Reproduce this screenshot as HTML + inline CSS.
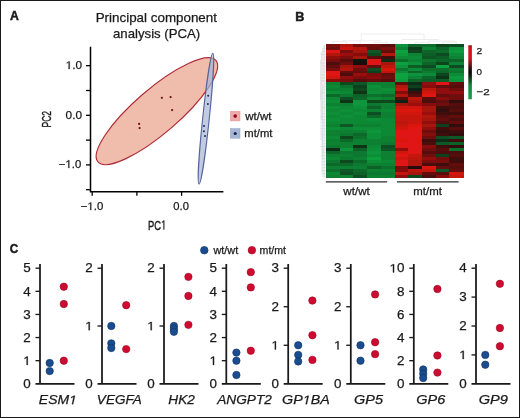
<!DOCTYPE html>
<html><head><meta charset="utf-8"><title>Figure</title>
<style>
html,body{margin:0;padding:0;background:#fff;}
body{width:520px;height:418px;overflow:hidden;font-family:"Liberation Sans", sans-serif;}
.frame{position:absolute;left:0;top:0;width:518px;height:416px;border:1px solid #1a1a1a;}
svg{position:absolute;left:0;top:0;display:block;will-change:transform;}
</style></head><body>
<svg width="520" height="418" viewBox="0 0 520 418" font-family='"Liberation Sans", sans-serif' fill="#1a1a1a"><style>text{stroke:#1a1a1a;stroke-width:0.25px;}</style><text x="10.00" y="20.30" font-size="12.5" font-weight="bold" textLength="8.83" lengthAdjust="spacingAndGlyphs" style="stroke-width:0.45px">A</text>
<text x="95.70" y="21.60" font-size="13.2" textLength="121.30" lengthAdjust="spacingAndGlyphs">Principal component</text>
<text x="113.04" y="37.60" font-size="13.2" textLength="87.18" lengthAdjust="spacingAndGlyphs">analysis (PCA)</text>
<ellipse cx="156.91" cy="111.17" rx="77.77" ry="22.09" transform="rotate(-40.72 156.91 111.17)" fill="#f0bdad" stroke="#b02c3a" stroke-width="1.2"/>
<circle cx="139.1" cy="123.9" r="1.15" fill="#701418"/>
<circle cx="139.6" cy="128.1" r="1.15" fill="#701418"/>
<circle cx="161.9" cy="97.8" r="1.15" fill="#701418"/>
<circle cx="170.6" cy="97.1" r="1.15" fill="#701418"/>
<circle cx="172.1" cy="110.1" r="1.15" fill="#701418"/>
<ellipse cx="205.95" cy="118.65" rx="65.8" ry="3.3" transform="rotate(-83.98 205.95 118.65)" fill="#a9b5d5" fill-opacity="0.7" stroke="#52649a" stroke-width="1.1"/>
<circle cx="208.2" cy="95.8" r="1.0" fill="#1c2c5c"/>
<circle cx="207.9" cy="104" r="1.0" fill="#1c2c5c"/>
<circle cx="204" cy="126" r="1.0" fill="#1c2c5c"/>
<circle cx="203.9" cy="131.3" r="1.0" fill="#1c2c5c"/>
<circle cx="205" cy="136" r="1.0" fill="#1c2c5c"/>
<path d="M90.5 46.7 V191.8 H223.4" fill="none" stroke="#000" stroke-width="1.5"/>
<line x1="86.0" y1="65.70" x2="90.5" y2="65.70" stroke="#000" stroke-width="1.3"/>
<line x1="86.0" y1="90.50" x2="90.5" y2="90.50" stroke="#000" stroke-width="1.3"/>
<line x1="86.0" y1="115.30" x2="90.5" y2="115.30" stroke="#000" stroke-width="1.3"/>
<line x1="86.0" y1="140.10" x2="90.5" y2="140.10" stroke="#000" stroke-width="1.3"/>
<line x1="86.0" y1="164.90" x2="90.5" y2="164.90" stroke="#000" stroke-width="1.3"/>
<line x1="86.0" y1="189.70" x2="90.5" y2="189.70" stroke="#000" stroke-width="1.3"/>
<line x1="92.20" y1="191.8" x2="92.20" y2="195.8" stroke="#000" stroke-width="1.3"/>
<line x1="136.90" y1="191.8" x2="136.90" y2="195.8" stroke="#000" stroke-width="1.3"/>
<line x1="181.60" y1="191.8" x2="181.60" y2="195.8" stroke="#000" stroke-width="1.3"/>
<path d="M515 0L515 1237L197 1010L197 1180L530 1409L696 1409L696 0Z" transform="translate(65.67 69.10) scale(0.00576 -0.00547)" fill="#1a1a1a" stroke="#1a1a1a" stroke-width="0.25" vector-effect="non-scaling-stroke"/>
<text x="65.67" y="69.10" font-size="11.2" textLength="16.40" lengthAdjust="spacingAndGlyphs"> .0</text>
<text x="65.64" y="118.80" font-size="11.2" textLength="16.42" lengthAdjust="spacingAndGlyphs">0.0</text>
<path d="M515 0L515 1237L197 1010L197 1180L530 1409L696 1409L696 0Z" transform="translate(65.47 168.00) scale(0.00554 -0.00547)" fill="#1a1a1a" stroke="#1a1a1a" stroke-width="0.25" vector-effect="non-scaling-stroke"/>
<text x="58.84" y="168.00" font-size="11.2" textLength="22.40" lengthAdjust="spacingAndGlyphs">− .0</text>
<path d="M515 0L515 1237L197 1010L197 1180L530 1409L696 1409L696 0Z" transform="translate(87.40 210.10) scale(0.00557 -0.00547)" fill="#1a1a1a" stroke="#1a1a1a" stroke-width="0.25" vector-effect="non-scaling-stroke"/>
<text x="80.74" y="210.10" font-size="11.2" textLength="22.51" lengthAdjust="spacingAndGlyphs">− .0</text>
<text x="173.36" y="210.20" font-size="11.2" textLength="15.58" lengthAdjust="spacingAndGlyphs">0.0</text>
<path d="M515 0L515 1237L197 1010L197 1180L530 1409L696 1409L696 0Z" transform="translate(161.10 229.50) scale(0.00460 -0.00645)" fill="#1a1a1a" stroke="#1a1a1a" stroke-width="0.25" vector-effect="non-scaling-stroke"/>
<text x="148.03" y="229.50" font-size="13.2" textLength="18.31" lengthAdjust="spacingAndGlyphs" style="stroke-width:0.4px">PC </text>
<g transform="translate(50.7 127.0) rotate(-90)">
<text x="-0.39" y="0.00" font-size="13.6" textLength="16.42" lengthAdjust="spacingAndGlyphs" style="stroke-width:0.4px">PC2</text>
</g>
<rect x="230.4" y="111.3" width="9.6" height="9.6" fill="#f0aaa8" stroke="#e09090" stroke-width="0.5"/>
<circle cx="235.2" cy="116.1" r="1.8" fill="#8a0c1c"/>
<rect x="230.4" y="128.6" width="9.6" height="9.6" fill="#a8b6d6" stroke="#90a0c8" stroke-width="0.5"/>
<circle cx="235.2" cy="133.5" r="1.6" fill="#14224c"/>
<text x="245.22" y="119.70" font-size="10.3" textLength="26.27" lengthAdjust="spacingAndGlyphs">wt/wt</text>
<text x="244.35" y="136.60" font-size="10.3" textLength="28.13" lengthAdjust="spacingAndGlyphs">mt/mt</text>
<text x="295.36" y="20.70" font-size="12.5" font-weight="bold" textLength="9.12" lengthAdjust="spacingAndGlyphs" style="stroke-width:0.45px">B</text>
<defs><filter id="hb" x="-2%" y="-2%" width="104%" height="104%"><feGaussianBlur stdDeviation="0.4"/></filter></defs>
<g filter="url(#hb)"><g shape-rendering="crispEdges"><rect x="325.80" y="44.00" width="14.04" height="3.25" fill="#7b0f0d"/><rect x="339.54" y="44.00" width="14.04" height="3.25" fill="#b2120f"/><rect x="353.28" y="44.00" width="14.04" height="3.25" fill="#7b0f0d"/><rect x="367.02" y="44.00" width="14.04" height="3.25" fill="#700e0c"/><rect x="380.76" y="44.00" width="14.04" height="3.25" fill="#590c0b"/><rect x="394.50" y="44.00" width="14.04" height="3.25" fill="#08933a"/><rect x="408.24" y="44.00" width="14.04" height="3.25" fill="#0b652a"/><rect x="421.98" y="44.00" width="14.04" height="3.25" fill="#0a6d2c"/><rect x="435.72" y="44.00" width="14.04" height="3.25" fill="#0d441e"/><rect x="449.46" y="44.00" width="14.04" height="3.25" fill="#0c4c21"/><rect x="325.80" y="46.95" width="14.04" height="3.25" fill="#700e0c"/><rect x="339.54" y="46.95" width="14.04" height="3.25" fill="#c61410"/><rect x="353.28" y="46.95" width="14.04" height="3.25" fill="#b2120f"/><rect x="367.02" y="46.95" width="14.04" height="3.25" fill="#640d0c"/><rect x="380.76" y="46.95" width="14.04" height="3.25" fill="#7b0f0d"/><rect x="394.50" y="46.95" width="14.04" height="3.25" fill="#098435"/><rect x="408.24" y="46.95" width="14.04" height="3.25" fill="#0d3b1b"/><rect x="421.98" y="46.95" width="14.04" height="3.25" fill="#098435"/><rect x="435.72" y="46.95" width="14.04" height="3.25" fill="#0b652a"/><rect x="449.46" y="46.95" width="14.04" height="3.25" fill="#08933a"/><rect x="325.80" y="49.89" width="14.04" height="3.25" fill="#e01612"/><rect x="339.54" y="49.89" width="14.04" height="3.25" fill="#7b0f0d"/><rect x="353.28" y="49.89" width="14.04" height="3.25" fill="#a7120f"/><rect x="367.02" y="49.89" width="14.04" height="3.25" fill="#0b5925"/><rect x="380.76" y="49.89" width="14.04" height="3.25" fill="#640d0c"/><rect x="394.50" y="49.89" width="14.04" height="3.25" fill="#08a240"/><rect x="408.24" y="49.89" width="14.04" height="3.25" fill="#0d441e"/><rect x="421.98" y="49.89" width="14.04" height="3.25" fill="#0b652a"/><rect x="435.72" y="49.89" width="14.04" height="3.25" fill="#0a6d2c"/><rect x="449.46" y="49.89" width="14.04" height="3.25" fill="#089a3d"/><rect x="325.80" y="52.84" width="14.04" height="3.25" fill="#b2120f"/><rect x="339.54" y="52.84" width="14.04" height="3.25" fill="#9c110e"/><rect x="353.28" y="52.84" width="14.04" height="3.25" fill="#870f0d"/><rect x="367.02" y="52.84" width="14.04" height="3.25" fill="#0c481f"/><rect x="380.76" y="52.84" width="14.04" height="3.25" fill="#b2120f"/><rect x="394.50" y="52.84" width="14.04" height="3.25" fill="#089a3d"/><rect x="408.24" y="52.84" width="14.04" height="3.25" fill="#098435"/><rect x="421.98" y="52.84" width="14.04" height="3.25" fill="#0b5d27"/><rect x="435.72" y="52.84" width="14.04" height="3.25" fill="#0c4c21"/><rect x="449.46" y="52.84" width="14.04" height="3.25" fill="#098b38"/><rect x="325.80" y="55.78" width="14.04" height="3.25" fill="#92100e"/><rect x="339.54" y="55.78" width="14.04" height="3.25" fill="#7b0f0d"/><rect x="353.28" y="55.78" width="14.04" height="3.25" fill="#a7120f"/><rect x="367.02" y="55.78" width="14.04" height="3.25" fill="#590c0b"/><rect x="380.76" y="55.78" width="14.04" height="3.25" fill="#400b0a"/><rect x="394.50" y="55.78" width="14.04" height="3.25" fill="#098b38"/><rect x="408.24" y="55.78" width="14.04" height="3.25" fill="#098b38"/><rect x="421.98" y="55.78" width="14.04" height="3.25" fill="#0c5424"/><rect x="435.72" y="55.78" width="14.04" height="3.25" fill="#0b5d27"/><rect x="449.46" y="55.78" width="14.04" height="3.25" fill="#098435"/><rect x="325.80" y="58.73" width="14.04" height="3.25" fill="#7b0f0d"/><rect x="339.54" y="58.73" width="14.04" height="3.25" fill="#590c0b"/><rect x="353.28" y="58.73" width="14.04" height="3.25" fill="#0f190e"/><rect x="367.02" y="58.73" width="14.04" height="3.25" fill="#e01612"/><rect x="380.76" y="58.73" width="14.04" height="3.25" fill="#0e2d16"/><rect x="394.50" y="58.73" width="14.04" height="3.25" fill="#0a6d2c"/><rect x="408.24" y="58.73" width="14.04" height="3.25" fill="#098435"/><rect x="421.98" y="58.73" width="14.04" height="3.25" fill="#0a742f"/><rect x="435.72" y="58.73" width="14.04" height="3.25" fill="#0b652a"/><rect x="449.46" y="58.73" width="14.04" height="3.25" fill="#0b652a"/><rect x="325.80" y="61.68" width="14.04" height="3.25" fill="#4c0b0a"/><rect x="339.54" y="61.68" width="14.04" height="3.25" fill="#700e0c"/><rect x="353.28" y="61.68" width="14.04" height="3.25" fill="#120808"/><rect x="367.02" y="61.68" width="14.04" height="3.25" fill="#e01612"/><rect x="380.76" y="61.68" width="14.04" height="3.25" fill="#a7120f"/><rect x="394.50" y="61.68" width="14.04" height="3.25" fill="#08a240"/><rect x="408.24" y="61.68" width="14.04" height="3.25" fill="#08933a"/><rect x="421.98" y="61.68" width="14.04" height="3.25" fill="#0b652a"/><rect x="435.72" y="61.68" width="14.04" height="3.25" fill="#0d441e"/><rect x="449.46" y="61.68" width="14.04" height="3.25" fill="#098435"/><rect x="325.80" y="64.62" width="14.04" height="3.25" fill="#640d0c"/><rect x="339.54" y="64.62" width="14.04" height="3.25" fill="#a7120f"/><rect x="353.28" y="64.62" width="14.04" height="3.25" fill="#92100e"/><rect x="367.02" y="64.62" width="14.04" height="3.25" fill="#640d0c"/><rect x="380.76" y="64.62" width="14.04" height="3.25" fill="#bc1310"/><rect x="394.50" y="64.62" width="14.04" height="3.25" fill="#08933a"/><rect x="408.24" y="64.62" width="14.04" height="3.25" fill="#0b5d27"/><rect x="421.98" y="64.62" width="14.04" height="3.25" fill="#0c4c21"/><rect x="435.72" y="64.62" width="14.04" height="3.25" fill="#08a240"/><rect x="449.46" y="64.62" width="14.04" height="3.25" fill="#0c4c21"/><rect x="325.80" y="67.57" width="14.04" height="3.25" fill="#7b0f0d"/><rect x="339.54" y="67.57" width="14.04" height="3.25" fill="#b2120f"/><rect x="353.28" y="67.57" width="14.04" height="3.25" fill="#700e0c"/><rect x="367.02" y="67.57" width="14.04" height="3.25" fill="#0c5022"/><rect x="380.76" y="67.57" width="14.04" height="3.25" fill="#da1511"/><rect x="394.50" y="67.57" width="14.04" height="3.25" fill="#0a742f"/><rect x="408.24" y="67.57" width="14.04" height="3.25" fill="#098b38"/><rect x="421.98" y="67.57" width="14.04" height="3.25" fill="#0a6d2c"/><rect x="435.72" y="67.57" width="14.04" height="3.25" fill="#0a6d2c"/><rect x="449.46" y="67.57" width="14.04" height="3.25" fill="#097c32"/><rect x="325.80" y="70.52" width="14.04" height="3.25" fill="#e01612"/><rect x="339.54" y="70.52" width="14.04" height="3.25" fill="#640d0c"/><rect x="353.28" y="70.52" width="14.04" height="3.25" fill="#640d0c"/><rect x="367.02" y="70.52" width="14.04" height="3.25" fill="#0d3f1c"/><rect x="380.76" y="70.52" width="14.04" height="3.25" fill="#bc1310"/><rect x="394.50" y="70.52" width="14.04" height="3.25" fill="#098b38"/><rect x="408.24" y="70.52" width="14.04" height="3.25" fill="#0b652a"/><rect x="421.98" y="70.52" width="14.04" height="3.25" fill="#097c32"/><rect x="435.72" y="70.52" width="14.04" height="3.25" fill="#0b652a"/><rect x="449.46" y="70.52" width="14.04" height="3.25" fill="#0a742f"/><rect x="325.80" y="73.46" width="14.04" height="3.25" fill="#e01612"/><rect x="339.54" y="73.46" width="14.04" height="3.25" fill="#4c0b0a"/><rect x="353.28" y="73.46" width="14.04" height="3.25" fill="#9c110e"/><rect x="367.02" y="73.46" width="14.04" height="3.25" fill="#7b0f0d"/><rect x="380.76" y="73.46" width="14.04" height="3.25" fill="#640d0c"/><rect x="394.50" y="73.46" width="14.04" height="3.25" fill="#08a240"/><rect x="408.24" y="73.46" width="14.04" height="3.25" fill="#08933a"/><rect x="421.98" y="73.46" width="14.04" height="3.25" fill="#098b38"/><rect x="435.72" y="73.46" width="14.04" height="3.25" fill="#0d441e"/><rect x="449.46" y="73.46" width="14.04" height="3.25" fill="#098b38"/><rect x="325.80" y="76.41" width="14.04" height="3.25" fill="#d01411"/><rect x="339.54" y="76.41" width="14.04" height="3.25" fill="#92100e"/><rect x="353.28" y="76.41" width="14.04" height="3.25" fill="#7b0f0d"/><rect x="367.02" y="76.41" width="14.04" height="3.25" fill="#870f0d"/><rect x="380.76" y="76.41" width="14.04" height="3.25" fill="#700e0c"/><rect x="394.50" y="76.41" width="14.04" height="3.25" fill="#08a240"/><rect x="408.24" y="76.41" width="14.04" height="3.25" fill="#098435"/><rect x="421.98" y="76.41" width="14.04" height="3.25" fill="#0b652a"/><rect x="435.72" y="76.41" width="14.04" height="3.25" fill="#0d3217"/><rect x="449.46" y="76.41" width="14.04" height="3.25" fill="#089a3d"/><rect x="325.80" y="79.35" width="14.04" height="3.25" fill="#870f0d"/><rect x="339.54" y="79.35" width="14.04" height="3.25" fill="#7b0f0d"/><rect x="353.28" y="79.35" width="14.04" height="3.25" fill="#590c0b"/><rect x="367.02" y="79.35" width="14.04" height="3.25" fill="#640d0c"/><rect x="380.76" y="79.35" width="14.04" height="3.25" fill="#590c0b"/><rect x="394.50" y="79.35" width="14.04" height="3.25" fill="#089a3d"/><rect x="408.24" y="79.35" width="14.04" height="3.25" fill="#0b652a"/><rect x="421.98" y="79.35" width="14.04" height="3.25" fill="#0b5d27"/><rect x="435.72" y="79.35" width="14.04" height="3.25" fill="#0b5d27"/><rect x="449.46" y="79.35" width="14.04" height="3.25" fill="#08933a"/><rect x="325.80" y="82.30" width="14.04" height="3.29" fill="#098033"/><rect x="339.54" y="82.30" width="14.04" height="3.29" fill="#0c481f"/><rect x="353.28" y="82.30" width="14.04" height="3.29" fill="#0b5925"/><rect x="367.02" y="82.30" width="14.04" height="3.29" fill="#098033"/><rect x="380.76" y="82.30" width="14.04" height="3.29" fill="#098033"/><rect x="394.50" y="82.30" width="14.04" height="3.29" fill="#640d0c"/><rect x="408.24" y="82.30" width="14.04" height="3.29" fill="#0e2d16"/><rect x="421.98" y="82.30" width="14.04" height="3.29" fill="#92100e"/><rect x="435.72" y="82.30" width="14.04" height="3.29" fill="#e01612"/><rect x="449.46" y="82.30" width="14.04" height="3.29" fill="#640d0c"/><rect x="325.80" y="85.29" width="14.04" height="3.29" fill="#098836"/><rect x="339.54" y="85.29" width="14.04" height="3.29" fill="#0a712e"/><rect x="353.28" y="85.29" width="14.04" height="3.29" fill="#0d3f1c"/><rect x="367.02" y="85.29" width="14.04" height="3.29" fill="#088f39"/><rect x="380.76" y="85.29" width="14.04" height="3.29" fill="#098033"/><rect x="394.50" y="85.29" width="14.04" height="3.29" fill="#b2120f"/><rect x="408.24" y="85.29" width="14.04" height="3.29" fill="#0d3f1c"/><rect x="421.98" y="85.29" width="14.04" height="3.29" fill="#870f0d"/><rect x="435.72" y="85.29" width="14.04" height="3.29" fill="#640d0c"/><rect x="449.46" y="85.29" width="14.04" height="3.29" fill="#590c0b"/><rect x="325.80" y="88.29" width="14.04" height="3.29" fill="#098033"/><rect x="339.54" y="88.29" width="14.04" height="3.29" fill="#098033"/><rect x="353.28" y="88.29" width="14.04" height="3.29" fill="#0c481f"/><rect x="367.02" y="88.29" width="14.04" height="3.29" fill="#098836"/><rect x="380.76" y="88.29" width="14.04" height="3.29" fill="#088f39"/><rect x="394.50" y="88.29" width="14.04" height="3.29" fill="#c61410"/><rect x="408.24" y="88.29" width="14.04" height="3.29" fill="#0e2312"/><rect x="421.98" y="88.29" width="14.04" height="3.29" fill="#bc1310"/><rect x="435.72" y="88.29" width="14.04" height="3.29" fill="#92100e"/><rect x="449.46" y="88.29" width="14.04" height="3.29" fill="#700e0c"/><rect x="325.80" y="91.28" width="14.04" height="3.29" fill="#088f39"/><rect x="339.54" y="91.28" width="14.04" height="3.29" fill="#098836"/><rect x="353.28" y="91.28" width="14.04" height="3.29" fill="#0d3619"/><rect x="367.02" y="91.28" width="14.04" height="3.29" fill="#088f39"/><rect x="380.76" y="91.28" width="14.04" height="3.29" fill="#098836"/><rect x="394.50" y="91.28" width="14.04" height="3.29" fill="#870f0d"/><rect x="408.24" y="91.28" width="14.04" height="3.29" fill="#400b0a"/><rect x="421.98" y="91.28" width="14.04" height="3.29" fill="#d01411"/><rect x="435.72" y="91.28" width="14.04" height="3.29" fill="#92100e"/><rect x="449.46" y="91.28" width="14.04" height="3.29" fill="#92100e"/><rect x="325.80" y="94.27" width="14.04" height="3.29" fill="#0b692b"/><rect x="339.54" y="94.27" width="14.04" height="3.29" fill="#0a7831"/><rect x="353.28" y="94.27" width="14.04" height="3.29" fill="#0b6128"/><rect x="367.02" y="94.27" width="14.04" height="3.29" fill="#0a712e"/><rect x="380.76" y="94.27" width="14.04" height="3.29" fill="#0b692b"/><rect x="394.50" y="94.27" width="14.04" height="3.29" fill="#b2120f"/><rect x="408.24" y="94.27" width="14.04" height="3.29" fill="#590c0b"/><rect x="421.98" y="94.27" width="14.04" height="3.29" fill="#e01612"/><rect x="435.72" y="94.27" width="14.04" height="3.29" fill="#640d0c"/><rect x="449.46" y="94.27" width="14.04" height="3.29" fill="#700e0c"/><rect x="325.80" y="97.27" width="14.04" height="3.29" fill="#098836"/><rect x="339.54" y="97.27" width="14.04" height="3.29" fill="#0c5022"/><rect x="353.28" y="97.27" width="14.04" height="3.29" fill="#0b692b"/><rect x="367.02" y="97.27" width="14.04" height="3.29" fill="#098836"/><rect x="380.76" y="97.27" width="14.04" height="3.29" fill="#098033"/><rect x="394.50" y="97.27" width="14.04" height="3.29" fill="#590c0b"/><rect x="408.24" y="97.27" width="14.04" height="3.29" fill="#bc1310"/><rect x="421.98" y="97.27" width="14.04" height="3.29" fill="#590c0b"/><rect x="435.72" y="97.27" width="14.04" height="3.29" fill="#870f0d"/><rect x="449.46" y="97.27" width="14.04" height="3.29" fill="#700e0c"/><rect x="325.80" y="100.26" width="14.04" height="3.29" fill="#088f39"/><rect x="339.54" y="100.26" width="14.04" height="3.29" fill="#0d3619"/><rect x="353.28" y="100.26" width="14.04" height="3.29" fill="#08963c"/><rect x="367.02" y="100.26" width="14.04" height="3.29" fill="#0c481f"/><rect x="380.76" y="100.26" width="14.04" height="3.29" fill="#0c481f"/><rect x="394.50" y="100.26" width="14.04" height="3.29" fill="#0e2312"/><rect x="408.24" y="100.26" width="14.04" height="3.29" fill="#a7120f"/><rect x="421.98" y="100.26" width="14.04" height="3.29" fill="#4c0b0a"/><rect x="435.72" y="100.26" width="14.04" height="3.29" fill="#640d0c"/><rect x="449.46" y="100.26" width="14.04" height="3.29" fill="#320a09"/><rect x="325.80" y="103.26" width="14.04" height="3.29" fill="#098033"/><rect x="339.54" y="103.26" width="14.04" height="3.29" fill="#098033"/><rect x="353.28" y="103.26" width="14.04" height="3.29" fill="#08963c"/><rect x="367.02" y="103.26" width="14.04" height="3.29" fill="#0a7831"/><rect x="380.76" y="103.26" width="14.04" height="3.29" fill="#098033"/><rect x="394.50" y="103.26" width="14.04" height="3.29" fill="#a7120f"/><rect x="408.24" y="103.26" width="14.04" height="3.29" fill="#9c110e"/><rect x="421.98" y="103.26" width="14.04" height="3.29" fill="#870f0d"/><rect x="435.72" y="103.26" width="14.04" height="3.29" fill="#700e0c"/><rect x="449.46" y="103.26" width="14.04" height="3.29" fill="#590c0b"/><rect x="325.80" y="106.25" width="14.04" height="3.29" fill="#088f39"/><rect x="339.54" y="106.25" width="14.04" height="3.29" fill="#098836"/><rect x="353.28" y="106.25" width="14.04" height="3.29" fill="#088f39"/><rect x="367.02" y="106.25" width="14.04" height="3.29" fill="#0b6128"/><rect x="380.76" y="106.25" width="14.04" height="3.29" fill="#098033"/><rect x="394.50" y="106.25" width="14.04" height="3.29" fill="#d01411"/><rect x="408.24" y="106.25" width="14.04" height="3.29" fill="#d01411"/><rect x="421.98" y="106.25" width="14.04" height="3.29" fill="#a7120f"/><rect x="435.72" y="106.25" width="14.04" height="3.29" fill="#400b0a"/><rect x="449.46" y="106.25" width="14.04" height="3.29" fill="#4c0b0a"/><rect x="325.80" y="109.24" width="14.04" height="3.29" fill="#098836"/><rect x="339.54" y="109.24" width="14.04" height="3.29" fill="#088f39"/><rect x="353.28" y="109.24" width="14.04" height="3.29" fill="#098836"/><rect x="367.02" y="109.24" width="14.04" height="3.29" fill="#098033"/><rect x="380.76" y="109.24" width="14.04" height="3.29" fill="#098836"/><rect x="394.50" y="109.24" width="14.04" height="3.29" fill="#da1511"/><rect x="408.24" y="109.24" width="14.04" height="3.29" fill="#da1511"/><rect x="421.98" y="109.24" width="14.04" height="3.29" fill="#a7120f"/><rect x="435.72" y="109.24" width="14.04" height="3.29" fill="#320a09"/><rect x="449.46" y="109.24" width="14.04" height="3.29" fill="#590c0b"/><rect x="325.80" y="112.24" width="14.04" height="3.29" fill="#088f39"/><rect x="339.54" y="112.24" width="14.04" height="3.29" fill="#098836"/><rect x="353.28" y="112.24" width="14.04" height="3.29" fill="#088f39"/><rect x="367.02" y="112.24" width="14.04" height="3.29" fill="#0c5022"/><rect x="380.76" y="112.24" width="14.04" height="3.29" fill="#098033"/><rect x="394.50" y="112.24" width="14.04" height="3.29" fill="#d01411"/><rect x="408.24" y="112.24" width="14.04" height="3.29" fill="#d01411"/><rect x="421.98" y="112.24" width="14.04" height="3.29" fill="#9c110e"/><rect x="435.72" y="112.24" width="14.04" height="3.29" fill="#400b0a"/><rect x="449.46" y="112.24" width="14.04" height="3.29" fill="#400b0a"/><rect x="325.80" y="115.23" width="14.04" height="3.29" fill="#098836"/><rect x="339.54" y="115.23" width="14.04" height="3.29" fill="#088f39"/><rect x="353.28" y="115.23" width="14.04" height="3.29" fill="#098836"/><rect x="367.02" y="115.23" width="14.04" height="3.29" fill="#0b692b"/><rect x="380.76" y="115.23" width="14.04" height="3.29" fill="#098033"/><rect x="394.50" y="115.23" width="14.04" height="3.29" fill="#c61410"/><rect x="408.24" y="115.23" width="14.04" height="3.29" fill="#c61410"/><rect x="421.98" y="115.23" width="14.04" height="3.29" fill="#b2120f"/><rect x="435.72" y="115.23" width="14.04" height="3.29" fill="#590c0b"/><rect x="449.46" y="115.23" width="14.04" height="3.29" fill="#640d0c"/><rect x="325.80" y="118.22" width="14.04" height="3.29" fill="#088f39"/><rect x="339.54" y="118.22" width="14.04" height="3.29" fill="#098836"/><rect x="353.28" y="118.22" width="14.04" height="3.29" fill="#098836"/><rect x="367.02" y="118.22" width="14.04" height="3.29" fill="#088f39"/><rect x="380.76" y="118.22" width="14.04" height="3.29" fill="#098836"/><rect x="394.50" y="118.22" width="14.04" height="3.29" fill="#c61410"/><rect x="408.24" y="118.22" width="14.04" height="3.29" fill="#c61410"/><rect x="421.98" y="118.22" width="14.04" height="3.29" fill="#a7120f"/><rect x="435.72" y="118.22" width="14.04" height="3.29" fill="#640d0c"/><rect x="449.46" y="118.22" width="14.04" height="3.29" fill="#4c0b0a"/><rect x="325.80" y="121.22" width="14.04" height="3.29" fill="#098836"/><rect x="339.54" y="121.22" width="14.04" height="3.29" fill="#098836"/><rect x="353.28" y="121.22" width="14.04" height="3.29" fill="#098836"/><rect x="367.02" y="121.22" width="14.04" height="3.29" fill="#098836"/><rect x="380.76" y="121.22" width="14.04" height="3.29" fill="#098836"/><rect x="394.50" y="121.22" width="14.04" height="3.29" fill="#bc1310"/><rect x="408.24" y="121.22" width="14.04" height="3.29" fill="#c61410"/><rect x="421.98" y="121.22" width="14.04" height="3.29" fill="#92100e"/><rect x="435.72" y="121.22" width="14.04" height="3.29" fill="#4c0b0a"/><rect x="449.46" y="121.22" width="14.04" height="3.29" fill="#640d0c"/><rect x="325.80" y="124.21" width="14.04" height="3.29" fill="#098033"/><rect x="339.54" y="124.21" width="14.04" height="3.29" fill="#0b5925"/><rect x="353.28" y="124.21" width="14.04" height="3.29" fill="#098033"/><rect x="367.02" y="124.21" width="14.04" height="3.29" fill="#098033"/><rect x="380.76" y="124.21" width="14.04" height="3.29" fill="#098836"/><rect x="394.50" y="124.21" width="14.04" height="3.29" fill="#c61410"/><rect x="408.24" y="124.21" width="14.04" height="3.29" fill="#da1511"/><rect x="421.98" y="124.21" width="14.04" height="3.29" fill="#a7120f"/><rect x="435.72" y="124.21" width="14.04" height="3.29" fill="#0d3f1c"/><rect x="449.46" y="124.21" width="14.04" height="3.29" fill="#320a09"/><rect x="325.80" y="127.21" width="14.04" height="3.29" fill="#088f39"/><rect x="339.54" y="127.21" width="14.04" height="3.29" fill="#098836"/><rect x="353.28" y="127.21" width="14.04" height="3.29" fill="#088f39"/><rect x="367.02" y="127.21" width="14.04" height="3.29" fill="#088f39"/><rect x="380.76" y="127.21" width="14.04" height="3.29" fill="#098836"/><rect x="394.50" y="127.21" width="14.04" height="3.29" fill="#d01411"/><rect x="408.24" y="127.21" width="14.04" height="3.29" fill="#e01612"/><rect x="421.98" y="127.21" width="14.04" height="3.29" fill="#92100e"/><rect x="435.72" y="127.21" width="14.04" height="3.29" fill="#400b0a"/><rect x="449.46" y="127.21" width="14.04" height="3.29" fill="#590c0b"/><rect x="325.80" y="130.20" width="14.04" height="3.29" fill="#098033"/><rect x="339.54" y="130.20" width="14.04" height="3.29" fill="#098033"/><rect x="353.28" y="130.20" width="14.04" height="3.29" fill="#098033"/><rect x="367.02" y="130.20" width="14.04" height="3.29" fill="#08963c"/><rect x="380.76" y="130.20" width="14.04" height="3.29" fill="#098836"/><rect x="394.50" y="130.20" width="14.04" height="3.29" fill="#e01612"/><rect x="408.24" y="130.20" width="14.04" height="3.29" fill="#e01612"/><rect x="421.98" y="130.20" width="14.04" height="3.29" fill="#700e0c"/><rect x="435.72" y="130.20" width="14.04" height="3.29" fill="#320a09"/><rect x="449.46" y="130.20" width="14.04" height="3.29" fill="#400b0a"/><rect x="325.80" y="133.19" width="14.04" height="3.29" fill="#098033"/><rect x="339.54" y="133.19" width="14.04" height="3.29" fill="#0a7831"/><rect x="353.28" y="133.19" width="14.04" height="3.29" fill="#0b692b"/><rect x="367.02" y="133.19" width="14.04" height="3.29" fill="#088f39"/><rect x="380.76" y="133.19" width="14.04" height="3.29" fill="#098836"/><rect x="394.50" y="133.19" width="14.04" height="3.29" fill="#e01612"/><rect x="408.24" y="133.19" width="14.04" height="3.29" fill="#e01612"/><rect x="421.98" y="133.19" width="14.04" height="3.29" fill="#870f0d"/><rect x="435.72" y="133.19" width="14.04" height="3.29" fill="#400b0a"/><rect x="449.46" y="133.19" width="14.04" height="3.29" fill="#320a09"/><rect x="325.80" y="136.19" width="14.04" height="3.29" fill="#098836"/><rect x="339.54" y="136.19" width="14.04" height="3.29" fill="#0c481f"/><rect x="353.28" y="136.19" width="14.04" height="3.29" fill="#0a712e"/><rect x="367.02" y="136.19" width="14.04" height="3.29" fill="#088f39"/><rect x="380.76" y="136.19" width="14.04" height="3.29" fill="#098033"/><rect x="394.50" y="136.19" width="14.04" height="3.29" fill="#e01612"/><rect x="408.24" y="136.19" width="14.04" height="3.29" fill="#e01612"/><rect x="421.98" y="136.19" width="14.04" height="3.29" fill="#700e0c"/><rect x="435.72" y="136.19" width="14.04" height="3.29" fill="#0c5022"/><rect x="449.46" y="136.19" width="14.04" height="3.29" fill="#0b5925"/><rect x="325.80" y="139.18" width="14.04" height="3.29" fill="#098033"/><rect x="339.54" y="139.18" width="14.04" height="3.29" fill="#0b692b"/><rect x="353.28" y="139.18" width="14.04" height="3.29" fill="#098033"/><rect x="367.02" y="139.18" width="14.04" height="3.29" fill="#098033"/><rect x="380.76" y="139.18" width="14.04" height="3.29" fill="#098033"/><rect x="394.50" y="139.18" width="14.04" height="3.29" fill="#da1511"/><rect x="408.24" y="139.18" width="14.04" height="3.29" fill="#e01612"/><rect x="421.98" y="139.18" width="14.04" height="3.29" fill="#400b0a"/><rect x="435.72" y="139.18" width="14.04" height="3.29" fill="#0e2d16"/><rect x="449.46" y="139.18" width="14.04" height="3.29" fill="#400b0a"/><rect x="325.80" y="142.18" width="14.04" height="3.29" fill="#098033"/><rect x="339.54" y="142.18" width="14.04" height="3.29" fill="#098033"/><rect x="353.28" y="142.18" width="14.04" height="3.29" fill="#098033"/><rect x="367.02" y="142.18" width="14.04" height="3.29" fill="#098033"/><rect x="380.76" y="142.18" width="14.04" height="3.29" fill="#0a7831"/><rect x="394.50" y="142.18" width="14.04" height="3.29" fill="#e01612"/><rect x="408.24" y="142.18" width="14.04" height="3.29" fill="#e01612"/><rect x="421.98" y="142.18" width="14.04" height="3.29" fill="#4c0b0a"/><rect x="435.72" y="142.18" width="14.04" height="3.29" fill="#0b5925"/><rect x="449.46" y="142.18" width="14.04" height="3.29" fill="#0b6128"/><rect x="325.80" y="145.17" width="14.04" height="3.29" fill="#0a7831"/><rect x="339.54" y="145.17" width="14.04" height="3.29" fill="#098033"/><rect x="353.28" y="145.17" width="14.04" height="3.29" fill="#0d3619"/><rect x="367.02" y="145.17" width="14.04" height="3.29" fill="#098836"/><rect x="380.76" y="145.17" width="14.04" height="3.29" fill="#0c5022"/><rect x="394.50" y="145.17" width="14.04" height="3.29" fill="#e01612"/><rect x="408.24" y="145.17" width="14.04" height="3.29" fill="#e01612"/><rect x="421.98" y="145.17" width="14.04" height="3.29" fill="#870f0d"/><rect x="435.72" y="145.17" width="14.04" height="3.29" fill="#400b0a"/><rect x="449.46" y="145.17" width="14.04" height="3.29" fill="#320a09"/><rect x="325.80" y="148.16" width="14.04" height="3.29" fill="#0e2d16"/><rect x="339.54" y="148.16" width="14.04" height="3.29" fill="#08963c"/><rect x="353.28" y="148.16" width="14.04" height="3.29" fill="#0b6128"/><rect x="367.02" y="148.16" width="14.04" height="3.29" fill="#088f39"/><rect x="380.76" y="148.16" width="14.04" height="3.29" fill="#0b5925"/><rect x="394.50" y="148.16" width="14.04" height="3.29" fill="#92100e"/><rect x="408.24" y="148.16" width="14.04" height="3.29" fill="#e01612"/><rect x="421.98" y="148.16" width="14.04" height="3.29" fill="#700e0c"/><rect x="435.72" y="148.16" width="14.04" height="3.29" fill="#590c0b"/><rect x="449.46" y="148.16" width="14.04" height="3.29" fill="#0a712e"/><rect x="325.80" y="151.16" width="14.04" height="3.29" fill="#0b692b"/><rect x="339.54" y="151.16" width="14.04" height="3.29" fill="#0a7831"/><rect x="353.28" y="151.16" width="14.04" height="3.29" fill="#0a7831"/><rect x="367.02" y="151.16" width="14.04" height="3.29" fill="#08963c"/><rect x="380.76" y="151.16" width="14.04" height="3.29" fill="#098033"/><rect x="394.50" y="151.16" width="14.04" height="3.29" fill="#d01411"/><rect x="408.24" y="151.16" width="14.04" height="3.29" fill="#e01612"/><rect x="421.98" y="151.16" width="14.04" height="3.29" fill="#590c0b"/><rect x="435.72" y="151.16" width="14.04" height="3.29" fill="#4c0b0a"/><rect x="449.46" y="151.16" width="14.04" height="3.29" fill="#4c0b0a"/><rect x="325.80" y="154.15" width="14.04" height="3.29" fill="#098033"/><rect x="339.54" y="154.15" width="14.04" height="3.29" fill="#098033"/><rect x="353.28" y="154.15" width="14.04" height="3.29" fill="#0a7831"/><rect x="367.02" y="154.15" width="14.04" height="3.29" fill="#088f39"/><rect x="380.76" y="154.15" width="14.04" height="3.29" fill="#098033"/><rect x="394.50" y="154.15" width="14.04" height="3.29" fill="#e01612"/><rect x="408.24" y="154.15" width="14.04" height="3.29" fill="#c61410"/><rect x="421.98" y="154.15" width="14.04" height="3.29" fill="#700e0c"/><rect x="435.72" y="154.15" width="14.04" height="3.29" fill="#0d3f1c"/><rect x="449.46" y="154.15" width="14.04" height="3.29" fill="#590c0b"/><rect x="325.80" y="157.14" width="14.04" height="3.29" fill="#098836"/><rect x="339.54" y="157.14" width="14.04" height="3.29" fill="#0a7831"/><rect x="353.28" y="157.14" width="14.04" height="3.29" fill="#098033"/><rect x="367.02" y="157.14" width="14.04" height="3.29" fill="#089e3e"/><rect x="380.76" y="157.14" width="14.04" height="3.29" fill="#098033"/><rect x="394.50" y="157.14" width="14.04" height="3.29" fill="#d01411"/><rect x="408.24" y="157.14" width="14.04" height="3.29" fill="#bc1310"/><rect x="421.98" y="157.14" width="14.04" height="3.29" fill="#92100e"/><rect x="435.72" y="157.14" width="14.04" height="3.29" fill="#700e0c"/><rect x="449.46" y="157.14" width="14.04" height="3.29" fill="#400b0a"/><rect x="325.80" y="160.14" width="14.04" height="3.29" fill="#0a7831"/><rect x="339.54" y="160.14" width="14.04" height="3.29" fill="#0c481f"/><rect x="353.28" y="160.14" width="14.04" height="3.29" fill="#0b692b"/><rect x="367.02" y="160.14" width="14.04" height="3.29" fill="#088f39"/><rect x="380.76" y="160.14" width="14.04" height="3.29" fill="#098836"/><rect x="394.50" y="160.14" width="14.04" height="3.29" fill="#e01612"/><rect x="408.24" y="160.14" width="14.04" height="3.29" fill="#b2120f"/><rect x="421.98" y="160.14" width="14.04" height="3.29" fill="#7b0f0d"/><rect x="435.72" y="160.14" width="14.04" height="3.29" fill="#7b0f0d"/><rect x="449.46" y="160.14" width="14.04" height="3.29" fill="#400b0a"/><rect x="325.80" y="163.13" width="14.04" height="3.29" fill="#0b692b"/><rect x="339.54" y="163.13" width="14.04" height="3.29" fill="#0b692b"/><rect x="353.28" y="163.13" width="14.04" height="3.29" fill="#0a7831"/><rect x="367.02" y="163.13" width="14.04" height="3.29" fill="#098033"/><rect x="380.76" y="163.13" width="14.04" height="3.29" fill="#098033"/><rect x="394.50" y="163.13" width="14.04" height="3.29" fill="#e01612"/><rect x="408.24" y="163.13" width="14.04" height="3.29" fill="#b2120f"/><rect x="421.98" y="163.13" width="14.04" height="3.29" fill="#4c0b0a"/><rect x="435.72" y="163.13" width="14.04" height="3.29" fill="#400b0a"/><rect x="449.46" y="163.13" width="14.04" height="3.29" fill="#640d0c"/><rect x="325.80" y="166.12" width="14.04" height="3.29" fill="#098033"/><rect x="339.54" y="166.12" width="14.04" height="3.29" fill="#098033"/><rect x="353.28" y="166.12" width="14.04" height="3.29" fill="#098033"/><rect x="367.02" y="166.12" width="14.04" height="3.29" fill="#0b6128"/><rect x="380.76" y="166.12" width="14.04" height="3.29" fill="#0a712e"/><rect x="394.50" y="166.12" width="14.04" height="3.29" fill="#7b0f0d"/><rect x="408.24" y="166.12" width="14.04" height="3.29" fill="#240908"/><rect x="421.98" y="166.12" width="14.04" height="3.29" fill="#da1511"/><rect x="435.72" y="166.12" width="14.04" height="3.29" fill="#640d0c"/><rect x="449.46" y="166.12" width="14.04" height="3.29" fill="#590c0b"/><rect x="325.80" y="169.12" width="14.04" height="3.29" fill="#0a712e"/><rect x="339.54" y="169.12" width="14.04" height="3.29" fill="#0b5925"/><rect x="353.28" y="169.12" width="14.04" height="3.29" fill="#0b692b"/><rect x="367.02" y="169.12" width="14.04" height="3.29" fill="#098033"/><rect x="380.76" y="169.12" width="14.04" height="3.29" fill="#098033"/><rect x="394.50" y="169.12" width="14.04" height="3.29" fill="#870f0d"/><rect x="408.24" y="169.12" width="14.04" height="3.29" fill="#bc1310"/><rect x="421.98" y="169.12" width="14.04" height="3.29" fill="#c61410"/><rect x="435.72" y="169.12" width="14.04" height="3.29" fill="#0b5925"/><rect x="449.46" y="169.12" width="14.04" height="3.29" fill="#640d0c"/><rect x="325.80" y="172.11" width="14.04" height="3.29" fill="#098836"/><rect x="339.54" y="172.11" width="14.04" height="3.29" fill="#0c5022"/><rect x="353.28" y="172.11" width="14.04" height="3.29" fill="#0b6128"/><rect x="367.02" y="172.11" width="14.04" height="3.29" fill="#0a7831"/><rect x="380.76" y="172.11" width="14.04" height="3.29" fill="#0a7831"/><rect x="394.50" y="172.11" width="14.04" height="3.29" fill="#c61410"/><rect x="408.24" y="172.11" width="14.04" height="3.29" fill="#a7120f"/><rect x="421.98" y="172.11" width="14.04" height="3.29" fill="#640d0c"/><rect x="435.72" y="172.11" width="14.04" height="3.29" fill="#590c0b"/><rect x="449.46" y="172.11" width="14.04" height="3.29" fill="#d01411"/><rect x="325.80" y="175.11" width="14.04" height="3.29" fill="#098033"/><rect x="339.54" y="175.11" width="14.04" height="3.29" fill="#098033"/><rect x="353.28" y="175.11" width="14.04" height="3.29" fill="#0c5022"/><rect x="367.02" y="175.11" width="14.04" height="3.29" fill="#098033"/><rect x="380.76" y="175.11" width="14.04" height="3.29" fill="#098033"/><rect x="394.50" y="175.11" width="14.04" height="3.29" fill="#92100e"/><rect x="408.24" y="175.11" width="14.04" height="3.29" fill="#0c481f"/><rect x="421.98" y="175.11" width="14.04" height="3.29" fill="#4c0b0a"/><rect x="435.72" y="175.11" width="14.04" height="3.29" fill="#870f0d"/><rect x="449.46" y="175.11" width="14.04" height="3.29" fill="#c61410"/></g></g>
<path d="M361.3 40.8 V34 H424 V39.5 M342.5 40.8 H381.5 M401.5 39.5 H439 M429 41 H456.4 M332.7 44 V41.5 M346.4 44 V42.2 M360.1 44 V40.8 M373.9 44 V42.5 M387.6 44 V41.8 M401.4 44 V41.2 M415.1 44 V42.6 M428.9 44 V41 M442.6 44 V42.2 M456.3 44 V41.6 M332.7 41.5 H346.4 M373.9 42.5 H387.6 M415.1 42.6 H428.9 M442.6 42.2 H456.3" stroke="#e0e0e0" stroke-width="0.6" fill="none"/>
<path d="M325.8 45.47 h-2.5 M325.8 48.42 h-2.0 M325.8 51.37 h-3.5 M325.8 54.31 h-5.5 M325.8 57.26 h-1.5 M325.8 60.20 h-1.0 M325.8 63.15 h-5.5 M325.8 66.10 h-3.0 M325.8 69.04 h-2.5 M325.8 71.99 h-2.5 M325.8 74.93 h-5.5 M325.8 77.88 h-5.5 M325.8 80.83 h-4.5 M325.8 83.80 h-2.0 M325.8 86.79 h-2.5 M325.8 89.78 h-2.0 M325.8 92.78 h-4.5 M325.8 95.77 h-1.0 M325.8 98.77 h-1.5 M325.8 101.76 h-2.0 M325.8 104.75 h-1.0 M325.8 107.75 h-3.0 M325.8 110.74 h-1.0 M325.8 113.73 h-3.0 M325.8 116.73 h-5.5 M325.8 119.72 h-4.5 M325.8 122.72 h-4.5 M325.8 125.71 h-4.5 M325.8 128.70 h-5.5 M325.8 131.70 h-2.0 M325.8 134.69 h-3.5 M325.8 137.68 h-1.5 M325.8 140.68 h-1.0 M325.8 143.67 h-2.0 M325.8 146.67 h-5.5 M325.8 149.66 h-2.5 M325.8 152.65 h-3.0 M325.8 155.65 h-4.5 M325.8 158.64 h-3.0 M325.8 161.63 h-4.5 M325.8 164.63 h-4.5 M325.8 167.62 h-3.5 M325.8 170.62 h-4.5 M325.8 173.61 h-2.5 M325.8 176.60 h-3.5 M324.6 45 V177 M323.6 46 V82 M323.2 84 V176 M322.4 48 V160 M321.4 52 V120 M320.6 60 V100 M322 130 V175 M321 90 V140" stroke="#d2d2d6" stroke-width="0.55" fill="none"/>
<line x1="325.8" y1="181.9" x2="387.2" y2="181.9" stroke="#2a2a2a" stroke-width="1.4"/>
<line x1="397.0" y1="181.9" x2="458.6" y2="181.9" stroke="#2a2a2a" stroke-width="1.4"/>
<text x="343.32" y="194.50" font-size="10.3" textLength="26.47" lengthAdjust="spacingAndGlyphs">wt/wt</text>
<text x="413.34" y="194.50" font-size="10.3" textLength="28.54" lengthAdjust="spacingAndGlyphs">mt/mt</text>
<defs><linearGradient id="cb" x1="0" y1="0" x2="0" y2="1"><stop offset="0" stop-color="#701010"/><stop offset="0.04" stop-color="#d8141a"/><stop offset="0.25" stop-color="#d01418"/><stop offset="0.42" stop-color="#301010"/><stop offset="0.5" stop-color="#080808"/><stop offset="0.58" stop-color="#0a2a12"/><stop offset="0.75" stop-color="#148a40"/><stop offset="1" stop-color="#1ea050"/></linearGradient></defs>
<rect x="468.3" y="45.3" width="3.6" height="54" fill="url(#cb)"/>
<text x="476.48" y="53.90" font-size="9.6" textLength="5.74" lengthAdjust="spacingAndGlyphs">2</text>
<text x="476.62" y="75.40" font-size="9.6" textLength="5.47" lengthAdjust="spacingAndGlyphs">0</text>
<text x="476.43" y="94.80" font-size="9.6" textLength="13.26" lengthAdjust="spacingAndGlyphs">−2</text>
<text x="9.87" y="252.80" font-size="12.0" font-weight="bold" textLength="8.45" lengthAdjust="spacingAndGlyphs" style="stroke-width:0.45px">C</text>
<circle cx="204.3" cy="250.2" r="3.8" fill="#1a4d8f" stroke="#0e3363" stroke-width="0.6"/>
<text x="213.42" y="253.60" font-size="10.4" textLength="24.86" lengthAdjust="spacingAndGlyphs">wt/wt</text>
<circle cx="251.9" cy="250.2" r="3.8" fill="#cc0c30" stroke="#a3001e" stroke-width="0.6"/>
<text x="259.60" y="253.60" font-size="10.4" textLength="26.38" lengthAdjust="spacingAndGlyphs">mt/mt</text>
<path d="M40.0 264 V383.8 M35.5 383.8 H74.5" fill="none" stroke="#1a1a1a" stroke-width="1.75"/>
<text x="23.23" y="388.00" font-size="12.0" textLength="7.47" lengthAdjust="spacingAndGlyphs">0</text>
<line x1="35.5" y1="360.68" x2="40.0" y2="360.68" stroke="#1a1a1a" stroke-width="1.35"/>
<path d="M515 0L515 1237L197 1010L197 1180L530 1409L696 1409L696 0Z" transform="translate(23.23 364.88) scale(0.00656 -0.00586)" fill="#1a1a1a" stroke="#1a1a1a" stroke-width="0.25" vector-effect="non-scaling-stroke"/>
<text x="23.23" y="364.88" font-size="12.0" textLength="7.47" lengthAdjust="spacingAndGlyphs"> </text>
<line x1="35.5" y1="337.56" x2="40.0" y2="337.56" stroke="#1a1a1a" stroke-width="1.35"/>
<text x="23.23" y="341.76" font-size="12.0" textLength="7.47" lengthAdjust="spacingAndGlyphs">2</text>
<line x1="35.5" y1="314.44" x2="40.0" y2="314.44" stroke="#1a1a1a" stroke-width="1.35"/>
<text x="23.23" y="318.64" font-size="12.0" textLength="7.47" lengthAdjust="spacingAndGlyphs">3</text>
<line x1="35.5" y1="291.32" x2="40.0" y2="291.32" stroke="#1a1a1a" stroke-width="1.35"/>
<text x="23.23" y="295.52" font-size="12.0" textLength="7.47" lengthAdjust="spacingAndGlyphs">4</text>
<line x1="35.5" y1="268.20" x2="40.0" y2="268.20" stroke="#1a1a1a" stroke-width="1.35"/>
<text x="23.23" y="272.40" font-size="12.0" textLength="7.47" lengthAdjust="spacingAndGlyphs">5</text>
<circle cx="49.70" cy="362.99" r="3.7" fill="#1a4d8f" stroke="#0e3363" stroke-width="0.6"/>
<circle cx="49.70" cy="371.08" r="3.7" fill="#1a4d8f" stroke="#0e3363" stroke-width="0.6"/>
<circle cx="63.80" cy="360.68" r="3.7" fill="#cc0c30" stroke="#a3001e" stroke-width="0.6"/>
<circle cx="63.80" cy="304.04" r="3.7" fill="#cc0c30" stroke="#a3001e" stroke-width="0.6"/>
<circle cx="63.80" cy="286.70" r="3.7" fill="#cc0c30" stroke="#a3001e" stroke-width="0.6"/>
<path d="M412 0L650 1223L289 1000L324 1180L701 1409L867 1409L593 0Z" transform="translate(69.10 404.20) scale(0.00681 -0.00601)" fill="#1a1a1a" stroke="#1a1a1a" stroke-width="0.25" vector-effect="non-scaling-stroke"/>
<text x="38.87" y="404.20" font-size="12.3" font-style="italic" textLength="37.98" lengthAdjust="spacingAndGlyphs">ESM </text>
<path d="M102.0 264 V383.8 M97.5 383.8 H136.5" fill="none" stroke="#1a1a1a" stroke-width="1.75"/>
<text x="85.23" y="388.00" font-size="12.0" textLength="7.47" lengthAdjust="spacingAndGlyphs">0</text>
<line x1="97.5" y1="326.00" x2="102.0" y2="326.00" stroke="#1a1a1a" stroke-width="1.35"/>
<path d="M515 0L515 1237L197 1010L197 1180L530 1409L696 1409L696 0Z" transform="translate(85.23 330.20) scale(0.00656 -0.00586)" fill="#1a1a1a" stroke="#1a1a1a" stroke-width="0.25" vector-effect="non-scaling-stroke"/>
<text x="85.23" y="330.20" font-size="12.0" textLength="7.47" lengthAdjust="spacingAndGlyphs"> </text>
<line x1="97.5" y1="268.20" x2="102.0" y2="268.20" stroke="#1a1a1a" stroke-width="1.35"/>
<text x="85.23" y="272.40" font-size="12.0" textLength="7.47" lengthAdjust="spacingAndGlyphs">2</text>
<circle cx="111.30" cy="326.00" r="3.7" fill="#1a4d8f" stroke="#0e3363" stroke-width="0.6"/>
<circle cx="111.30" cy="343.34" r="3.7" fill="#1a4d8f" stroke="#0e3363" stroke-width="0.6"/>
<circle cx="111.30" cy="347.96" r="3.7" fill="#1a4d8f" stroke="#0e3363" stroke-width="0.6"/>
<circle cx="126.20" cy="305.19" r="3.7" fill="#cc0c30" stroke="#a3001e" stroke-width="0.6"/>
<circle cx="126.20" cy="349.12" r="3.7" fill="#cc0c30" stroke="#a3001e" stroke-width="0.6"/>
<text x="96.86" y="404.20" font-size="12.3" font-style="italic" textLength="44.85" lengthAdjust="spacingAndGlyphs">VEGFA</text>
<path d="M164.0 264 V383.8 M159.5 383.8 H198.5" fill="none" stroke="#1a1a1a" stroke-width="1.75"/>
<text x="147.23" y="388.00" font-size="12.0" textLength="7.47" lengthAdjust="spacingAndGlyphs">0</text>
<line x1="159.5" y1="326.00" x2="164.0" y2="326.00" stroke="#1a1a1a" stroke-width="1.35"/>
<path d="M515 0L515 1237L197 1010L197 1180L530 1409L696 1409L696 0Z" transform="translate(147.23 330.20) scale(0.00656 -0.00586)" fill="#1a1a1a" stroke="#1a1a1a" stroke-width="0.25" vector-effect="non-scaling-stroke"/>
<text x="147.23" y="330.20" font-size="12.0" textLength="7.47" lengthAdjust="spacingAndGlyphs"> </text>
<line x1="159.5" y1="268.20" x2="164.0" y2="268.20" stroke="#1a1a1a" stroke-width="1.35"/>
<text x="147.23" y="272.40" font-size="12.0" textLength="7.47" lengthAdjust="spacingAndGlyphs">2</text>
<circle cx="173.90" cy="326.00" r="3.7" fill="#1a4d8f" stroke="#0e3363" stroke-width="0.6"/>
<circle cx="173.90" cy="328.89" r="3.7" fill="#1a4d8f" stroke="#0e3363" stroke-width="0.6"/>
<circle cx="173.90" cy="331.78" r="3.7" fill="#1a4d8f" stroke="#0e3363" stroke-width="0.6"/>
<circle cx="188.40" cy="276.87" r="3.7" fill="#cc0c30" stroke="#a3001e" stroke-width="0.6"/>
<circle cx="188.40" cy="295.94" r="3.7" fill="#cc0c30" stroke="#a3001e" stroke-width="0.6"/>
<circle cx="188.40" cy="324.84" r="3.7" fill="#cc0c30" stroke="#a3001e" stroke-width="0.6"/>
<text x="168.38" y="404.20" font-size="12.3" font-style="italic" textLength="26.52" lengthAdjust="spacingAndGlyphs">HK2</text>
<path d="M226.3 264 V383.8 M221.8 383.8 H260.8" fill="none" stroke="#1a1a1a" stroke-width="1.75"/>
<text x="209.53" y="388.00" font-size="12.0" textLength="7.47" lengthAdjust="spacingAndGlyphs">0</text>
<line x1="221.8" y1="360.68" x2="226.3" y2="360.68" stroke="#1a1a1a" stroke-width="1.35"/>
<path d="M515 0L515 1237L197 1010L197 1180L530 1409L696 1409L696 0Z" transform="translate(209.53 364.88) scale(0.00656 -0.00586)" fill="#1a1a1a" stroke="#1a1a1a" stroke-width="0.25" vector-effect="non-scaling-stroke"/>
<text x="209.53" y="364.88" font-size="12.0" textLength="7.47" lengthAdjust="spacingAndGlyphs"> </text>
<line x1="221.8" y1="337.56" x2="226.3" y2="337.56" stroke="#1a1a1a" stroke-width="1.35"/>
<text x="209.53" y="341.76" font-size="12.0" textLength="7.47" lengthAdjust="spacingAndGlyphs">2</text>
<line x1="221.8" y1="314.44" x2="226.3" y2="314.44" stroke="#1a1a1a" stroke-width="1.35"/>
<text x="209.53" y="318.64" font-size="12.0" textLength="7.47" lengthAdjust="spacingAndGlyphs">3</text>
<line x1="221.8" y1="291.32" x2="226.3" y2="291.32" stroke="#1a1a1a" stroke-width="1.35"/>
<text x="209.53" y="295.52" font-size="12.0" textLength="7.47" lengthAdjust="spacingAndGlyphs">4</text>
<line x1="221.8" y1="268.20" x2="226.3" y2="268.20" stroke="#1a1a1a" stroke-width="1.35"/>
<text x="209.53" y="272.40" font-size="12.0" textLength="7.47" lengthAdjust="spacingAndGlyphs">5</text>
<circle cx="236.40" cy="352.59" r="3.7" fill="#1a4d8f" stroke="#0e3363" stroke-width="0.6"/>
<circle cx="236.40" cy="360.68" r="3.7" fill="#1a4d8f" stroke="#0e3363" stroke-width="0.6"/>
<circle cx="236.40" cy="375.01" r="3.7" fill="#1a4d8f" stroke="#0e3363" stroke-width="0.6"/>
<circle cx="250.80" cy="272.13" r="3.7" fill="#cc0c30" stroke="#a3001e" stroke-width="0.6"/>
<circle cx="250.80" cy="287.39" r="3.7" fill="#cc0c30" stroke="#a3001e" stroke-width="0.6"/>
<circle cx="250.80" cy="350.74" r="3.7" fill="#cc0c30" stroke="#a3001e" stroke-width="0.6"/>
<text x="217.22" y="404.20" font-size="12.3" font-style="italic" textLength="54.68" lengthAdjust="spacingAndGlyphs">ANGPT2</text>
<path d="M288.2 264 V383.8 M283.7 383.8 H322.7" fill="none" stroke="#1a1a1a" stroke-width="1.75"/>
<text x="271.43" y="388.00" font-size="12.0" textLength="7.47" lengthAdjust="spacingAndGlyphs">0</text>
<line x1="283.7" y1="345.27" x2="288.2" y2="345.27" stroke="#1a1a1a" stroke-width="1.35"/>
<path d="M515 0L515 1237L197 1010L197 1180L530 1409L696 1409L696 0Z" transform="translate(271.43 349.47) scale(0.00656 -0.00586)" fill="#1a1a1a" stroke="#1a1a1a" stroke-width="0.25" vector-effect="non-scaling-stroke"/>
<text x="271.43" y="349.47" font-size="12.0" textLength="7.47" lengthAdjust="spacingAndGlyphs"> </text>
<line x1="283.7" y1="306.73" x2="288.2" y2="306.73" stroke="#1a1a1a" stroke-width="1.35"/>
<text x="271.43" y="310.93" font-size="12.0" textLength="7.47" lengthAdjust="spacingAndGlyphs">2</text>
<line x1="283.7" y1="268.20" x2="288.2" y2="268.20" stroke="#1a1a1a" stroke-width="1.35"/>
<text x="271.43" y="272.40" font-size="12.0" textLength="7.47" lengthAdjust="spacingAndGlyphs">3</text>
<circle cx="298.20" cy="345.27" r="3.7" fill="#1a4d8f" stroke="#0e3363" stroke-width="0.6"/>
<circle cx="298.20" cy="354.90" r="3.7" fill="#1a4d8f" stroke="#0e3363" stroke-width="0.6"/>
<circle cx="298.20" cy="361.45" r="3.7" fill="#1a4d8f" stroke="#0e3363" stroke-width="0.6"/>
<circle cx="312.40" cy="300.57" r="3.7" fill="#cc0c30" stroke="#a3001e" stroke-width="0.6"/>
<circle cx="312.40" cy="335.25" r="3.7" fill="#cc0c30" stroke="#a3001e" stroke-width="0.6"/>
<circle cx="312.40" cy="359.91" r="3.7" fill="#cc0c30" stroke="#a3001e" stroke-width="0.6"/>
<path d="M412 0L650 1223L289 1000L324 1180L701 1409L867 1409L593 0Z" transform="translate(302.73 404.20) scale(0.00697 -0.00601)" fill="#1a1a1a" stroke="#1a1a1a" stroke-width="0.25" vector-effect="non-scaling-stroke"/>
<text x="282.10" y="404.20" font-size="12.3" font-style="italic" textLength="47.62" lengthAdjust="spacingAndGlyphs">GP BA</text>
<path d="M350.8 264 V383.8 M346.3 383.8 H385.3" fill="none" stroke="#1a1a1a" stroke-width="1.75"/>
<text x="334.03" y="388.00" font-size="12.0" textLength="7.47" lengthAdjust="spacingAndGlyphs">0</text>
<line x1="346.3" y1="345.27" x2="350.8" y2="345.27" stroke="#1a1a1a" stroke-width="1.35"/>
<path d="M515 0L515 1237L197 1010L197 1180L530 1409L696 1409L696 0Z" transform="translate(334.03 349.47) scale(0.00656 -0.00586)" fill="#1a1a1a" stroke="#1a1a1a" stroke-width="0.25" vector-effect="non-scaling-stroke"/>
<text x="334.03" y="349.47" font-size="12.0" textLength="7.47" lengthAdjust="spacingAndGlyphs"> </text>
<line x1="346.3" y1="306.73" x2="350.8" y2="306.73" stroke="#1a1a1a" stroke-width="1.35"/>
<text x="334.03" y="310.93" font-size="12.0" textLength="7.47" lengthAdjust="spacingAndGlyphs">2</text>
<line x1="346.3" y1="268.20" x2="350.8" y2="268.20" stroke="#1a1a1a" stroke-width="1.35"/>
<text x="334.03" y="272.40" font-size="12.0" textLength="7.47" lengthAdjust="spacingAndGlyphs">3</text>
<circle cx="360.50" cy="345.27" r="3.7" fill="#1a4d8f" stroke="#0e3363" stroke-width="0.6"/>
<circle cx="360.50" cy="360.68" r="3.7" fill="#1a4d8f" stroke="#0e3363" stroke-width="0.6"/>
<circle cx="375.10" cy="294.40" r="3.7" fill="#cc0c30" stroke="#a3001e" stroke-width="0.6"/>
<circle cx="375.10" cy="342.18" r="3.7" fill="#cc0c30" stroke="#a3001e" stroke-width="0.6"/>
<circle cx="375.10" cy="354.13" r="3.7" fill="#cc0c30" stroke="#a3001e" stroke-width="0.6"/>
<text x="354.09" y="404.20" font-size="12.3" font-style="italic" textLength="28.88" lengthAdjust="spacingAndGlyphs">GP5</text>
<path d="M413.8 264 V383.8 M409.3 383.8 H448.3" fill="none" stroke="#1a1a1a" stroke-width="1.75"/>
<text x="397.03" y="388.00" font-size="12.0" textLength="7.47" lengthAdjust="spacingAndGlyphs">0</text>
<line x1="409.3" y1="360.68" x2="413.8" y2="360.68" stroke="#1a1a1a" stroke-width="1.35"/>
<text x="397.03" y="364.88" font-size="12.0" textLength="7.47" lengthAdjust="spacingAndGlyphs">2</text>
<line x1="409.3" y1="337.56" x2="413.8" y2="337.56" stroke="#1a1a1a" stroke-width="1.35"/>
<text x="397.03" y="341.76" font-size="12.0" textLength="7.47" lengthAdjust="spacingAndGlyphs">4</text>
<line x1="409.3" y1="314.44" x2="413.8" y2="314.44" stroke="#1a1a1a" stroke-width="1.35"/>
<text x="397.03" y="318.64" font-size="12.0" textLength="7.47" lengthAdjust="spacingAndGlyphs">6</text>
<line x1="409.3" y1="291.32" x2="413.8" y2="291.32" stroke="#1a1a1a" stroke-width="1.35"/>
<text x="397.03" y="295.52" font-size="12.0" textLength="7.47" lengthAdjust="spacingAndGlyphs">8</text>
<line x1="409.3" y1="268.20" x2="413.8" y2="268.20" stroke="#1a1a1a" stroke-width="1.35"/>
<path d="M515 0L515 1237L197 1010L197 1180L530 1409L696 1409L696 0Z" transform="translate(389.55 272.40) scale(0.00656 -0.00586)" fill="#1a1a1a" stroke="#1a1a1a" stroke-width="0.25" vector-effect="non-scaling-stroke"/>
<text x="389.55" y="272.40" font-size="12.0" textLength="14.95" lengthAdjust="spacingAndGlyphs"> 0</text>
<circle cx="423.20" cy="369.47" r="3.7" fill="#1a4d8f" stroke="#0e3363" stroke-width="0.6"/>
<circle cx="423.20" cy="373.74" r="3.7" fill="#1a4d8f" stroke="#0e3363" stroke-width="0.6"/>
<circle cx="423.20" cy="378.02" r="3.7" fill="#1a4d8f" stroke="#0e3363" stroke-width="0.6"/>
<circle cx="437.40" cy="289.01" r="3.7" fill="#cc0c30" stroke="#a3001e" stroke-width="0.6"/>
<circle cx="437.40" cy="355.48" r="3.7" fill="#cc0c30" stroke="#a3001e" stroke-width="0.6"/>
<circle cx="437.40" cy="372.59" r="3.7" fill="#cc0c30" stroke="#a3001e" stroke-width="0.6"/>
<text x="416.39" y="404.20" font-size="12.3" font-style="italic" textLength="28.91" lengthAdjust="spacingAndGlyphs">GP6</text>
<path d="M476.0 264 V383.8 M471.5 383.8 H510.5" fill="none" stroke="#1a1a1a" stroke-width="1.75"/>
<text x="459.23" y="388.00" font-size="12.0" textLength="7.47" lengthAdjust="spacingAndGlyphs">0</text>
<line x1="471.5" y1="354.90" x2="476.0" y2="354.90" stroke="#1a1a1a" stroke-width="1.35"/>
<path d="M515 0L515 1237L197 1010L197 1180L530 1409L696 1409L696 0Z" transform="translate(459.23 359.10) scale(0.00656 -0.00586)" fill="#1a1a1a" stroke="#1a1a1a" stroke-width="0.25" vector-effect="non-scaling-stroke"/>
<text x="459.23" y="359.10" font-size="12.0" textLength="7.47" lengthAdjust="spacingAndGlyphs"> </text>
<line x1="471.5" y1="326.00" x2="476.0" y2="326.00" stroke="#1a1a1a" stroke-width="1.35"/>
<text x="459.23" y="330.20" font-size="12.0" textLength="7.47" lengthAdjust="spacingAndGlyphs">2</text>
<line x1="471.5" y1="297.10" x2="476.0" y2="297.10" stroke="#1a1a1a" stroke-width="1.35"/>
<text x="459.23" y="301.30" font-size="12.0" textLength="7.47" lengthAdjust="spacingAndGlyphs">3</text>
<line x1="471.5" y1="268.20" x2="476.0" y2="268.20" stroke="#1a1a1a" stroke-width="1.35"/>
<text x="459.23" y="272.40" font-size="12.0" textLength="7.47" lengthAdjust="spacingAndGlyphs">4</text>
<circle cx="485.30" cy="354.90" r="3.7" fill="#1a4d8f" stroke="#0e3363" stroke-width="0.6"/>
<circle cx="485.30" cy="364.73" r="3.7" fill="#1a4d8f" stroke="#0e3363" stroke-width="0.6"/>
<circle cx="499.90" cy="283.81" r="3.7" fill="#cc0c30" stroke="#a3001e" stroke-width="0.6"/>
<circle cx="499.90" cy="328.02" r="3.7" fill="#cc0c30" stroke="#a3001e" stroke-width="0.6"/>
<circle cx="499.90" cy="346.23" r="3.7" fill="#cc0c30" stroke="#a3001e" stroke-width="0.6"/>
<text x="478.68" y="404.20" font-size="12.3" font-style="italic" textLength="29.22" lengthAdjust="spacingAndGlyphs">GP9</text></svg>
<div class="frame"></div>
</body></html>
